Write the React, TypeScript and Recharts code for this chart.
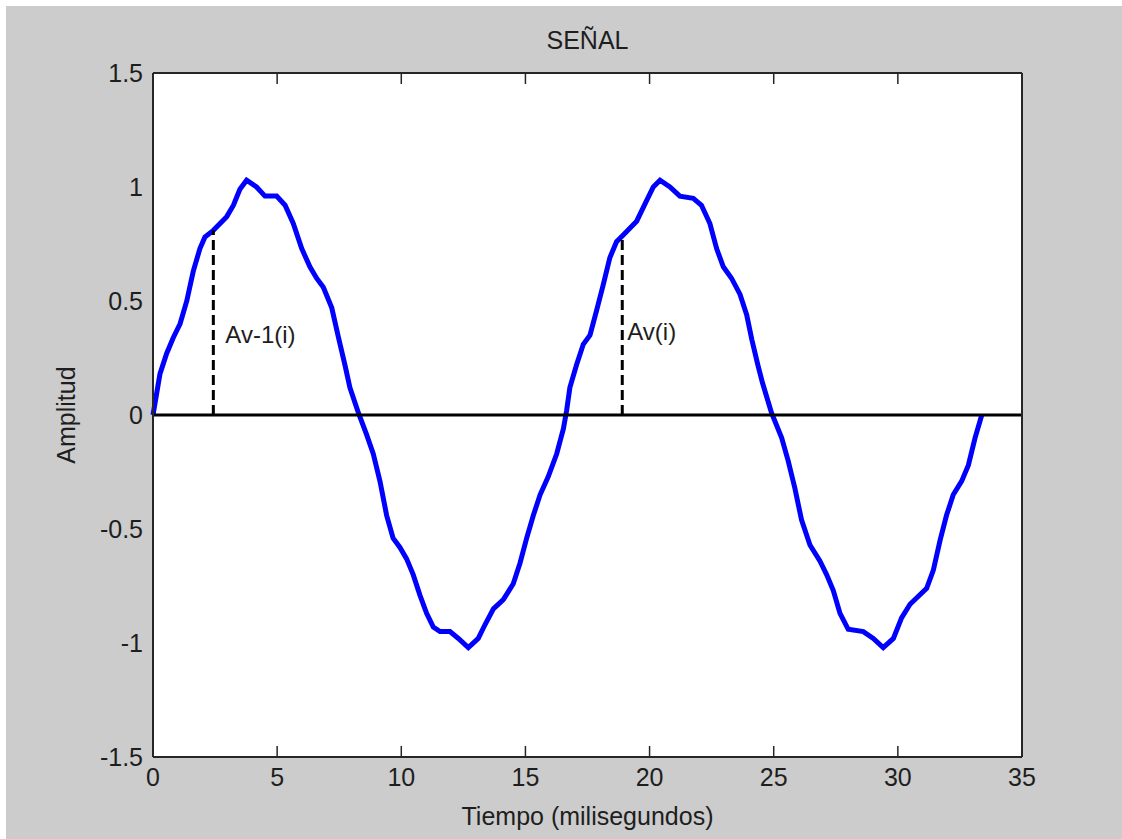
import React from 'react';
import {
  LineChart,
  Line,
  XAxis,
  YAxis,
  CartesianGrid,
  ReferenceLine,
  ReferenceDot,
} from 'recharts';

// Sampled signal: time in milliseconds and its amplitude.
const timeMs = [
  0, 0.28, 0.55, 0.82, 1.09, 1.36, 1.62, 1.89, 2.09, 2.43, 2.97, 3.24, 3.5, 3.77,
  4.17, 4.51, 4.98, 5.32, 5.65, 5.99, 6.32, 6.59, 6.86, 7.2, 7.47, 7.73, 7.93,
  8.27, 8.6, 8.87, 9.14, 9.41, 9.67, 9.94, 10.21, 10.48, 10.75, 11.02, 11.29,
  11.56, 11.96, 12.3, 12.7, 13.1, 13.37, 13.71, 14.11, 14.51, 14.78, 15.05,
  15.32, 15.59, 15.92, 16.26, 16.53, 16.66, 16.79, 17.06, 17.33, 17.6, 17.87,
  18.13, 18.4, 18.67, 18.94, 19.48, 19.88, 20.15, 20.42, 20.82, 21.22, 21.76,
  22.09, 22.43, 22.7, 22.97, 23.3, 23.64, 23.91, 24.12, 24.36, 24.55, 24.91,
  25.32, 25.58, 25.85, 26.12, 26.46, 26.86, 27.13, 27.4, 27.67, 28.0, 28.61,
  29.01, 29.41, 29.82, 30.15, 30.49, 31.16, 31.43, 31.7, 31.96, 32.23, 32.57,
  32.84, 33.11, 33.38,
];

const amplitude = [
  0, 0.18, 0.27, 0.34, 0.4, 0.5, 0.63, 0.73, 0.78, 0.81, 0.87, 0.92, 0.99, 1.03,
  1.0, 0.96, 0.96, 0.92, 0.84, 0.73, 0.65, 0.6, 0.56, 0.47, 0.34, 0.22, 0.12,
  0.01, -0.085, -0.17, -0.29, -0.44, -0.54, -0.58, -0.63, -0.7, -0.79, -0.87,
  -0.93, -0.95, -0.95, -0.98, -1.02, -0.98, -0.92, -0.85, -0.81, -0.74, -0.65,
  -0.54, -0.44, -0.35, -0.27, -0.17, -0.06, 0.02, 0.12, 0.22, 0.31, 0.35, 0.46,
  0.57, 0.69, 0.76, 0.79, 0.85, 0.94, 1.0, 1.03, 1.0, 0.96, 0.95, 0.92, 0.84,
  0.73, 0.65, 0.6, 0.53, 0.44, 0.33, 0.22, 0.14, 0.01, -0.1, -0.2, -0.32, -0.46,
  -0.57, -0.64, -0.7, -0.77, -0.87, -0.94, -0.95, -0.98, -1.02, -0.98, -0.89,
  -0.83, -0.76, -0.68, -0.55, -0.44, -0.35, -0.29, -0.22, -0.1, 0.0,
];

const timeTicks = [0, 5, 10, 15, 20, 25, 30, 35];
const amplitudeTicks = [-1.5, -1, -0.5, 0, 0.5, 1, 1.5];

// Consecutive sample amplitudes marked on the signal.
const markerTimes = [2.43, 18.9];
const markerValues = [0.81, 0.785];
const markerNames = ['Av-1(i)', 'Av(i)'];

const signal = timeMs.map((t, i) => ({ t, a: amplitude[i] }));

const FONT = '"Liberation Sans", Arial, Helvetica, sans-serif';
const TEXT = '#1e1e1e';
const FRAME = '#262626';

// Where each marker's caption sits (amplitude of its centre, gap to the dashed line).
const captionLevel = [0.355, 0.368];
const captionGap = [12, 5];

// Frame axes draw only their inward tick marks, no labels.
const NoLabel = () => <g />;

export default function App() {
  const tickStyle = { fontSize: 25, fill: TEXT, fontFamily: FONT };
  const frameTickLine = { stroke: FRAME, strokeWidth: 1.5 };
  const frameLine = { stroke: FRAME, strokeWidth: 2 };
  return (
    <div
      style={{
        position: 'absolute',
        left: 0,
        top: 0,
        width: 1122,
        height: 839,
        background: '#ffffff',
        overflow: 'hidden',
      }}
    >
      <div
        style={{
          position: 'absolute',
          left: 6,
          top: 6,
          right: 0,
          bottom: 0,
          background: '#cccccc',
        }}
      />
      <div style={{ position: 'absolute', left: 0, top: 0 }}>
        <LineChart
          width={1122}
          height={839}
          data={signal}
          margin={{ top: 73, right: 100, bottom: 42, left: 0 }}
        >
          <CartesianGrid
            xAxisId="x"
            yAxisId="y"
            horizontal={false}
            vertical={false}
            fill="#ffffff"
          />
          <XAxis
            xAxisId="x"
            dataKey="t"
            type="number"
            domain={[0, 35]}
            ticks={timeTicks}
            interval={0}
            orientation="bottom"
            height={40}
            tickLine={false}
            tickSize={0}
            tickMargin={11}
            axisLine={false}
            tick={tickStyle}
            label={{
              value: 'Tiempo (milisegundos)',
              position: 'bottom',
              offset: 10,
              style: { fontSize: 25, fill: TEXT, fontFamily: FONT },
            }}
          />
          <XAxis
            xAxisId="xb"
            dataKey="t"
            type="number"
            domain={[0, 35]}
            ticks={timeTicks}
            interval={0}
            orientation="bottom"
            mirror
            tick={NoLabel}
            tickSize={11}
            tickLine={frameTickLine}
            axisLine={frameLine}
          />
          <XAxis
            xAxisId="xt"
            dataKey="t"
            type="number"
            domain={[0, 35]}
            ticks={timeTicks}
            interval={0}
            orientation="top"
            mirror
            tick={NoLabel}
            tickSize={11}
            tickLine={frameTickLine}
            axisLine={frameLine}
            label={{
              value: 'SEÑAL',
              position: 'top',
              offset: 24,
              style: { fontSize: 25, fill: TEXT, fontFamily: FONT },
            }}
          />
          <YAxis
            yAxisId="y"
            type="number"
            domain={[-1.5, 1.5]}
            ticks={amplitudeTicks}
            interval={0}
            width={153}
            tickLine={false}
            tickSize={0}
            tickMargin={10}
            axisLine={false}
            tick={tickStyle}
            label={{
              value: 'Amplitud',
              angle: -90,
              position: 'insideLeft',
              offset: 66,
              style: { fontSize: 25, fill: TEXT, fontFamily: FONT, textAnchor: 'middle' },
            }}
          />
          <YAxis
            yAxisId="yl"
            type="number"
            domain={[-1.5, 1.5]}
            ticks={amplitudeTicks}
            interval={0}
            orientation="left"
            mirror
            tick={NoLabel}
            tickSize={11}
            tickLine={frameTickLine}
            axisLine={frameLine}
          />
          <YAxis
            yAxisId="yr"
            type="number"
            domain={[-1.5, 1.5]}
            ticks={amplitudeTicks}
            interval={0}
            orientation="right"
            mirror
            tick={NoLabel}
            tickSize={11}
            tickLine={frameTickLine}
            axisLine={frameLine}
          />
          <Line
            xAxisId="x"
            yAxisId="y"
            type="linear"
            dataKey="a"
            stroke="#0000ff"
            strokeWidth={5}
            dot={false}
            activeDot={false}
            isAnimationActive={false}
          />
          <ReferenceLine
            xAxisId="x"
            yAxisId="y"
            y={0}
            stroke="#000000"
            strokeWidth={3}
          />
          {markerTimes.map((t, i) => (
            <ReferenceLine
              key={`seg-${i}`}
              xAxisId="x"
              yAxisId="y"
              segment={[
                { x: t, y: 0 },
                { x: t, y: markerValues[i] },
              ]}
              stroke="#000000"
              strokeWidth={3}
              strokeDasharray="10 5"
            />
          ))}
          {markerTimes.map((t, i) => (
            <ReferenceDot
              key={`cap-${i}`}
              xAxisId="x"
              yAxisId="y"
              x={t}
              y={captionLevel[i]}
              r={0}
              fill="none"
              stroke="none"
              label={{
                value: markerNames[i],
                position: 'right',
                offset: captionGap[i],
                style: { fontSize: 24, fill: TEXT, fontFamily: FONT },
              }}
            />
          ))}
        </LineChart>
      </div>
    </div>
  );
}
